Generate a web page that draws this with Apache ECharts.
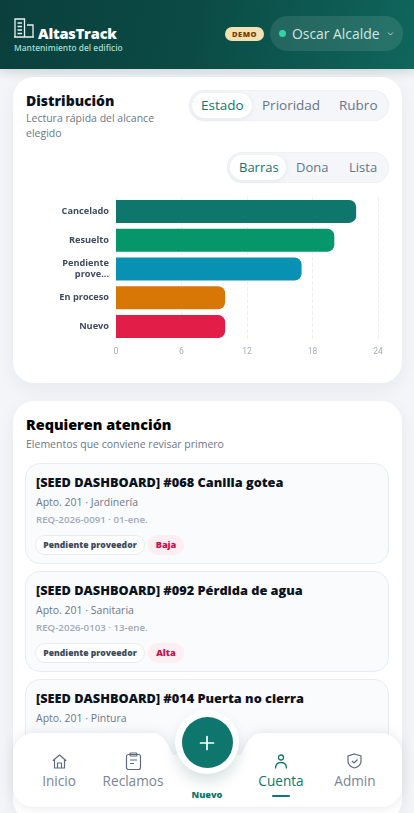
<!DOCTYPE html>
<html lang="es">
<head>
<meta charset="utf-8">
<title>AltasTrack</title>
<script src="https://cdn.jsdelivr.net/npm/echarts@6/dist/echarts.min.js"></script>
<style>
*{box-sizing:border-box;margin:0;padding:0}
html,body{width:414px;height:813px;overflow:hidden;background:#f3f5f8;font-family:"Open Sans",sans-serif;color:#0b1220}
.abs{position:absolute;white-space:nowrap}
#header{position:absolute;left:0;top:0;width:414px;height:69px;background:linear-gradient(100deg,#0a3f3c 0%,#0b4a45 45%,#0f665c 100%);box-shadow:0 3px 10px rgba(15,40,50,.16)}
.card{position:absolute;left:13px;width:389px;background:#fff;border-radius:21px;box-shadow:0 6px 18px rgba(30,50,80,.06)}
.seg{position:absolute;height:31px;border-radius:16px;background:#f4f6f9;box-shadow:inset 0 0 0 1px #eef1f5}
.seg span{position:absolute;top:0;line-height:31px;font-size:13.5px;color:#66758a;white-space:nowrap}
.seg span.on{color:#0f766e;background:#fff;border-radius:15px;top:3px;line-height:25px;height:25px;box-shadow:0 1px 5px rgba(30,50,80,.08)}
.seg.low span{font-size:13px}
.item{position:absolute;left:25px;width:364px;background:#fafbfd;border:1px solid #e8ecf1;border-radius:15px}
.item b{position:absolute;left:10px;top:9px;font-size:12.75px;font-weight:800;white-space:nowrap;color:#0b1220}
.item i{position:absolute;left:10px;top:31px;font-style:normal;font-size:10.5px;color:#6b7789;white-space:nowrap}
.item u{position:absolute;left:10px;top:49px;text-decoration:none;font-size:9.7px;font-weight:600;color:#a0a9b8;white-space:nowrap}
.pill{position:absolute;left:9px;top:71px;width:110px;height:20px;line-height:18px;border:1px solid #e8ecf1;border-radius:10px;background:#fff;text-align:center;font-size:8.6px;font-weight:800;color:#3d4a5c;white-space:nowrap}
.prio{position:absolute;left:122px;top:71px;width:36px;height:20px;line-height:20px;border-radius:10px;background:#fdeef2;text-align:center;font-size:9.2px;font-weight:800;color:#c8104f}
.nav-t{position:absolute;top:771px;font-size:13.6px;color:#7a8596;text-align:center;white-space:nowrap;line-height:20px}
</style>
</head>
<body>
<div id="header">
  <svg class="abs" style="left:14px;top:18px" width="20" height="20" viewBox="0 0 20 20" fill="none" stroke="#e6f5f1" stroke-width="1.3">
    <path d="M1 19V1h9.500v18M13 7h6v12M0 19h20M3.500 5h4.500M3.500 8.500h4.500M3.500 12h4.500M3.500 15.500h4.500"/>
  </svg>
  <div class="abs" style="left:38px;top:23px;font-size:14.6px;font-weight:800;color:#fff;letter-spacing:-.2px">AltasTrack</div>
  <div class="abs" style="left:14px;top:42px;font-size:8.4px;font-weight:600;color:#a5dccd">Mantenimiento del edificio</div>
  <div class="abs" style="left:225px;top:27px;width:39px;height:14px;line-height:14px;border-radius:7px;background:#f3e2b0;text-align:center;font-size:7.6px;font-weight:800;letter-spacing:.5px;color:#7c3a0a">DEMO</div>
  <div class="abs" style="left:270px;top:16px;width:133px;height:35px;border-radius:18px;background:rgba(255,255,255,.1)"></div>
  <div class="abs" style="left:279px;top:30px;width:7px;height:7px;border-radius:50%;background:#34d3a6"></div>
  <div class="abs" style="left:292px;top:24px;font-size:13.9px;color:#d3e6e2">Oscar Alcalde</div>
  <svg class="abs" style="left:387px;top:31px" width="7" height="6" viewBox="0 0 7 6" fill="none" stroke="#b7d3ce" stroke-width="1"><path d="M1 1.500l2.500 2.500L6 1.500"/></svg>
</div>

<div class="card" style="top:77px;height:306px"></div>
<div class="abs" style="left:26px;top:91px;font-size:14px;font-weight:800">Distribución</div>
<div class="abs" style="left:26px;top:111px;font-size:10.5px;line-height:15px;color:#6b7789">Lectura rápida del alcance<br>elegido</div>
<div class="seg" style="left:189px;top:90px;width:200px">
  <span class="on" style="left:3px;width:60px;padding-left:9px">Estado</span>
  <span style="left:73px">Prioridad</span>
  <span style="left:150px">Rubro</span>
</div>
<div class="seg low" style="left:227px;top:152px;width:162px">
  <span class="on" style="left:3px;width:56px;padding-left:9px">Barras</span>
  <span style="left:69px">Dona</span>
  <span style="left:122px">Lista</span>
</div>
<div id="chart" class="abs" style="left:13px;top:188px;width:389px;height:180px"></div>

<div class="card" style="top:401px;height:420px"></div>
<div class="abs" style="left:26px;top:415px;font-size:14.4px;font-weight:800;color:#000">Requieren atención</div>
<div class="abs" style="left:26px;top:437px;font-size:10.5px;color:#6b7789">Elementos que conviene revisar primero</div>
<div id="items"></div>

<svg class="abs" style="left:0;top:715px" width="414" height="98" viewBox="0 0 414 98">
  <defs><filter id="s" x="-5%" y="-20%" width="110%" height="140%"><feDropShadow dx="0" dy="0" stdDeviation="6" flood-color="#1e3250" flood-opacity=".1"/></filter></defs>
  <path filter="url(#s)" fill="#fff" d="M35 18H150C158 18 163 21 168 30C175 44 184 66 207 66C230 66 239 44 246 30C251 21 256 18 264 18H380C393 18 402 28 402 41V70C402 83 392 92 380 92H35C22 92 13 83 13 70V41C13 28 22 18 35 18Z"/>
  <path fill="#fff" d="M160 40h94v52h-94z"/>
</svg>
<div class="abs" style="left:175px;top:710px;width:64px;height:64px;border-radius:50%;background:#fff;box-shadow:0 8px 14px rgba(15,90,80,.16)"></div>
<div class="abs" style="left:182px;top:717px;width:51px;height:51px;border-radius:50%;background:#0f766e"></div>
<svg class="abs" style="left:199px;top:735px" width="16" height="16" viewBox="0 0 16 16" stroke="#fff" stroke-width="1.7" stroke-linecap="round"><path d="M8 1.500v13M1.500 8h13"/></svg>
<div class="abs" style="left:182px;top:788px;width:50px;text-align:center;font-size:9.2px;font-weight:800;color:#0f766e">Nuevo</div>

<svg class="abs" style="left:52px;top:754px" width="15" height="15" viewBox="0 0 15 15" fill="none" stroke="#5e6b7d" stroke-width="1.2" stroke-linejoin="round"><path d="M.8 6.800L7.500 1l6.700 5.800M2.500 5.500V14h10V5.500M5.500 14V9h4v5"/></svg>
<svg class="abs" style="left:125px;top:752px" width="17" height="18" viewBox="0 0 17 18" fill="none" stroke="#5e6b7d" stroke-width="1.2"><rect x="1.500" y="2.500" width="14" height="15" rx="2"/><rect x="5" y="1" width="7" height="3" rx="1"/><path d="M5 8h7M5 11.500h4"/></svg>
<svg class="abs" style="left:274px;top:754px" width="14" height="15" viewBox="0 0 14 15" fill="none" stroke="#0f766e" stroke-width="1.3"><circle cx="7" cy="3.500" r="2.500"/><path d="M1.500 14.500c0-4 2.500-6 5.500-6s5.500 2 5.500 6"/></svg>
<svg class="abs" style="left:347px;top:753px" width="15" height="16" viewBox="0 0 15 16" fill="none" stroke="#5e6b7d" stroke-width="1.2"><path d="M7.500 1L14 3v5c0 3.500-3 6-6.500 7C4 14 1 11.500 1 8V3z"/><path d="M5 8l2 2 3.500-3.500"/></svg>
<div class="nav-t" style="left:41px;width:36px">Inicio</div>
<div class="nav-t" style="left:102px;width:62px">Reclamos</div>
<div class="nav-t" style="left:257px;width:48px;color:#0f766e">Cuenta</div>
<div class="nav-t" style="left:332px;width:46px">Admin</div>
<div class="abs" style="left:272px;top:795px;width:18px;height:2px;border-radius:1px;background:#0f766e"></div>

<script>
// datos del grafico
var categorias = ['Nuevo', 'En proceso', 'Pendiente proveedor', 'Resuelto', 'Cancelado']
var valores = [10, 10, 17, 20, 22]
var colores = ['#e11d48', '#d97706', '#0891b2', '#059669', '#0f766e']
var ejeTicks = [0, 6, 12, 18, 24]

// tarjetas de "Requieren atención"
var itemTitulos = ['[SEED DASHBOARD] #068 Canilla gotea', '[SEED DASHBOARD] #092 Pérdida de agua', '[SEED DASHBOARD] #014 Puerta no cierra']
var itemLugares = ['Apto. 201 · Jardinería', 'Apto. 201 · Sanitaria', 'Apto. 201 · Pintura']
var itemCodigos = ['REQ-2026-0091 · 01-ene.', 'REQ-2026-0103 · 13-ene.', '']
var itemEstados = ['Pendiente proveedor', 'Pendiente proveedor', '']
var itemPrioridades = ['Baja', 'Alta', '']
var itemTops = [463, 571, 679]

var html = ''
itemTitulos.forEach(function (t, i) {
    html += '<div class="item" style="top:' + itemTops[i] + 'px;height:' + (i == 2 ? 90 : 101) + 'px">'
    html += '<b>' + t + '</b><i>' + itemLugares[i] + '</i>'
    if (itemCodigos[i]) {
        html += '<u>' + itemCodigos[i] + '</u><span class="pill">' + itemEstados[i] + '</span><span class="prio">' + itemPrioridades[i] + '</span>'
    }
    html += '</div>'
})
document.getElementById('items').innerHTML = html

var myChart = echarts.init(document.getElementById('chart'))
myChart.setOption({
    animation: false,
    grid: { left: 103, right: 24, top: 9, bottom: 27 },
    xAxis: {
        type: 'value',
        min: ejeTicks[0],
        max: ejeTicks[ejeTicks.length - 1],
        interval: 6,
        axisLine: { show: false },
        axisTick: { show: false },
        axisLabel: { color: '#a3acb9', fontSize: 8.5, fontFamily: 'Roboto', margin: 6 },
        splitLine: { lineStyle: { color: '#eef0f4', type: 'dashed', width: 1 } }
    },
    yAxis: {
        type: 'category',
        data: categorias,
        axisLine: { show: false },
        axisTick: { show: false },
        axisLabel: {
            color: '#3f4b5e',
            fontSize: 9.2,
            fontWeight: 700,
            fontFamily: 'Open Sans',
            margin: 7,
            lineHeight: 10.5,
            formatter: function (v) {
                return v == 'Pendiente proveedor' ? 'Pendiente\nprove...' : v
            }
        }
    },
    series: [{
        type: 'bar',
        barWidth: 23,
        data: valores.map(function (v, i) {
            return {
                value: v,
                itemStyle: { color: colores[i], borderRadius: [0, 7, 7, 0] }
            }
        })
    }]
})
</script>
</body>
</html>
